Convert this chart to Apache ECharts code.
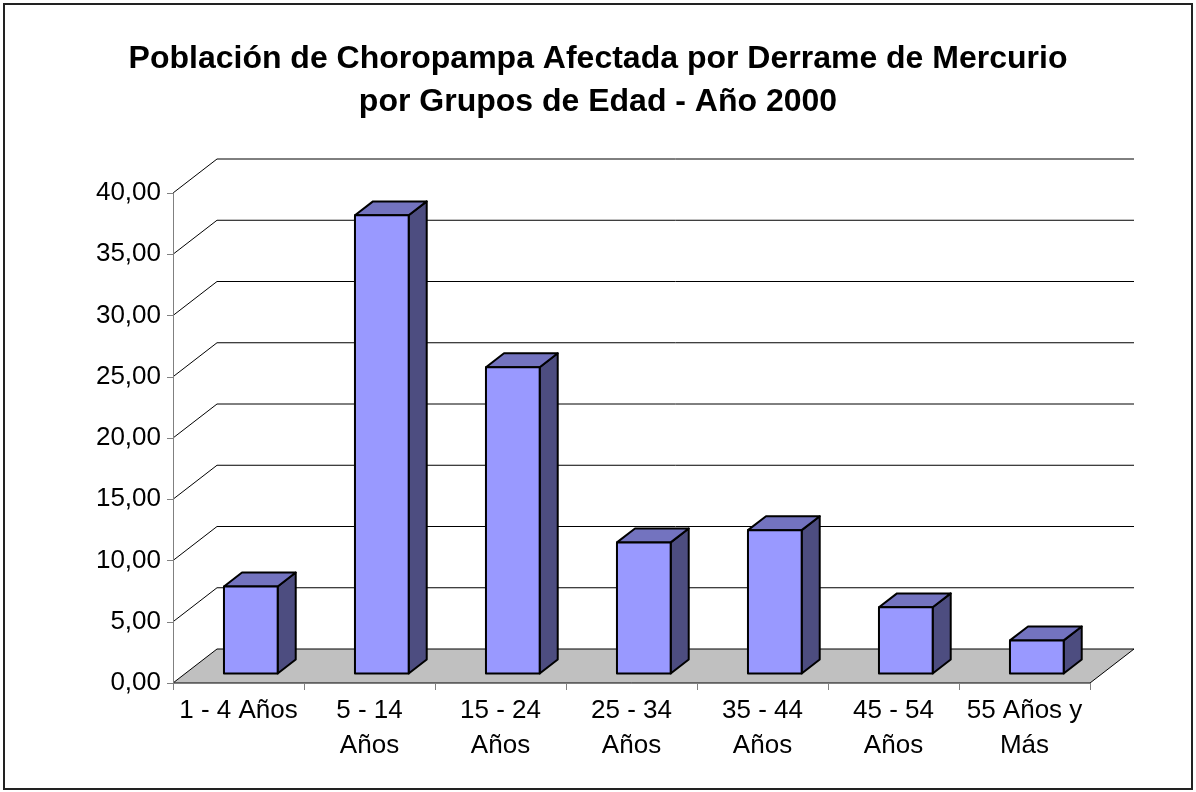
<!DOCTYPE html>
<html>
<head>
<meta charset="utf-8">
<script src="https://cdn.jsdelivr.net/npm/echarts@6/dist/echarts.min.js"></script>
<style>html,body{margin:0;padding:0;background:#fff;}#c{width:1196px;height:792px;}</style>
</head>
<body>
<div id="c"></div>
<script>
const categories = ['1 - 4 Años', '5 - 14\nAños', '15 - 24\nAños', '25 - 34\nAños', '35 - 44\nAños', '45 - 54\nAños', '55 Años y\nMás'];
const values = [7.1, 37.4, 25.0, 10.7, 11.7, 5.4, 2.7];
const yTicks = [0, 5, 10, 15, 20, 25, 30, 35, 40];
const titleLines = ['Población de Choropampa Afectada por Derrame de Mercurio', 'por Grupos de Edad - Año 2000'];

const DX = 44, DY = -34;       // depth of the 3D box (px)
const F0 = 0.28, F1 = 0.69;    // bar depth position (fraction of depth)
const BAR_W = 0.41;            // bar width as fraction of category width

const chart = echarts.init(document.getElementById('c'), null, {renderer: 'canvas'});

function wallItem(params, api) {
  const cs = params.coordSys;
  const v = api.value(1);
  const y = api.coord([0, v])[1];
  const left = cs.x, right = cs.x + cs.width;
  if (v === 0) {
    return {
      type: 'polygon',
      shape: {points: [[left, y], [right, y], [right + DX, y + DY], [left + DX, y + DY]]},
      style: {fill: '#C0C0C0', stroke: '#000', lineWidth: 1}
    };
  }
  return {
    type: 'polyline',
    shape: {points: [[left, y], [left + DX, y + DY], [right + DX, y + DY]]},
    style: {fill: null, stroke: '#000', lineWidth: 1}
  };
}

function barItem(params, api) {
  const i = api.value(0), v = api.value(1);
  const base = api.coord([i, 0]);
  const top = api.coord([i, v]);
  const bw = api.size([1, 0])[0] * BAR_W;
  const x0 = base[0] - bw / 2 + F0 * DX;
  const x1 = x0 + bw;
  const yb = base[1] + F0 * DY;
  const yt = top[1] + F0 * DY;
  const ddx = (F1 - F0) * DX, ddy = (F1 - F0) * DY;
  const st = {stroke: '#000', lineWidth: 2, lineJoin: 'round'};
  return {
    type: 'group',
    children: [
      {type: 'polygon', shape: {points: [[x1, yt], [x1 + ddx, yt + ddy], [x1 + ddx, yb + ddy], [x1, yb]]},
       style: Object.assign({fill: '#4D4D80'}, st)},
      {type: 'polygon', shape: {points: [[x0, yt], [x0 + ddx, yt + ddy], [x1 + ddx, yt + ddy], [x1, yt]]},
       style: Object.assign({fill: '#7373BF'}, st)},
      {type: 'polygon', shape: {points: [[x0, yt], [x1, yt], [x1, yb], [x0, yb]]},
       style: Object.assign({fill: '#9999FF'}, st)}
    ]
  };
}

chart.setOption({
  animation: false,
  backgroundColor: '#fff',
  textStyle: {fontFamily: 'Arial, "Liberation Sans", sans-serif'},
  title: {
    text: titleLines.join('\n'),
    left: 'center',
    top: 33,
    textStyle: {fontSize: 32, fontWeight: 'bold', color: '#000', lineHeight: 43, fontFamily: 'Arial, "Liberation Sans", sans-serif'}
  },
  graphic: [{
    type: 'rect', silent: true,
    shape: {x: 4, y: 4, width: 1188, height: 785},
    style: {fill: null, stroke: '#222', lineWidth: 2}
  }],
  grid: {left: 173, right: 106, top: 193, bottom: 109},
  xAxis: {
    type: 'category',
    data: categories,
    boundaryGap: true,
    axisLine: {lineStyle: {color: '#808080', width: 1}},
    axisTick: {show: true, length: 7, alignWithLabel: false, lineStyle: {color: '#808080'}},
    axisLabel: {interval: 0, fontSize: 26, lineHeight: 35, color: '#000', margin: 10, align: 'center'},
    splitLine: {show: false},
    z: 5
  },
  yAxis: {
    type: 'value',
    min: 0, max: 40, interval: 5,
    axisLine: {show: true, lineStyle: {color: '#808080', width: 1}},
    axisTick: {show: true, length: 6, lineStyle: {color: '#808080'}},
    axisLabel: {fontSize: 26, color: '#000', margin: 12, formatter: v => v.toFixed(2).replace('.', ',')},
    splitLine: {show: false},
    z: 5
  },
  series: [
    {type: 'custom', name: 'walls', renderItem: wallItem, data: yTicks.map(v => [0, v]), encode: {x: 0, y: 1}, clip: false, z: 1, silent: true},
    {type: 'custom', name: 'bars', renderItem: barItem, data: values.map((v, i) => [i, v]), encode: {x: 0, y: 1}, clip: false, z: 3}
  ]
});
</script>
</body>
</html>
